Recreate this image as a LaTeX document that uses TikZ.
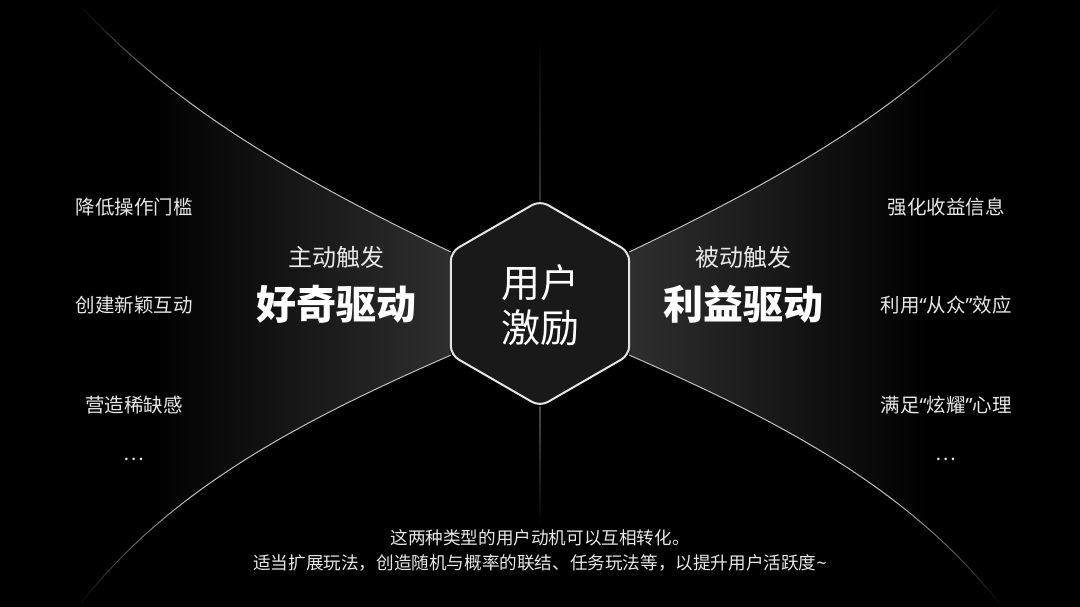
\documentclass[tikz,border=0pt]{standalone}
\usepackage{fontspec}
\setmainfont{Noto Sans CJK SC}
\newfontfamily\latinq{Noto Sans}
\usetikzlibrary{shapes.geometric,fadings}
\pgfdeclarehorizontalshading{shL}{100bp}{color(0bp)=(black); color(25bp)=(black); color(40bp)=(white); color(100bp)=(white)}
\pgfdeclarefading{fadeL}{\pgfuseshading{shL}}
\pgfdeclarehorizontalshading{shR}{100bp}{color(0bp)=(white); color(60bp)=(white); color(75bp)=(black); color(100bp)=(black)}
\pgfdeclarefading{fadeR}{\pgfuseshading{shR}}
\definecolor{hexfill}{HTML}{191919}
\definecolor{glow}{HTML}{303030}
\definecolor{curve}{HTML}{C0C0C0}
\definecolor{vline}{HTML}{4A4A4A}
\definecolor{txt}{HTML}{E8E8E8}
\tikzset{
  item/.style={text=txt, font=\fontsize{19.5}{22}\selectfont, anchor=center, inner sep=0pt},
  sub/.style={text=txt, font=\fontsize{24}{28}\selectfont, anchor=center, inner sep=0pt},
  big/.style={text=white, font=\fontsize{40}{46}\selectfont\bfseries, anchor=center, inner sep=0pt},
  foot/.style={text=txt, font=\fontsize{17.6}{25}\selectfont, align=center, anchor=center, inner sep=0pt},
  curveline/.style={draw=curve, line width=1pt},
}
\begin{document}
\begin{tikzpicture}[x=1pt,y=-1pt]
\useasboundingbox (0,0) rectangle (1080,607);
\fill[black] (0,0) rectangle (1080,607);
% hexagon node (defined first for anchors, drawn later on top)
\path node[regular polygon, regular polygon sides=6, shape border rotate=30,
  minimum size=206pt, inner sep=0pt] (hexg) at (540,303.5) {};
\coordinate (tl) at (80,5);
\coordinate (bl) at (78,607);
\coordinate (tr) at (1000,5);
\coordinate (br) at (1002,607);
\coordinate (vt) at (540,38);
\coordinate (vb) at (540,526);
% left glow
\begin{scope}
  \clip (tl) .. controls (173,107) and (300,180) .. (hexg.150) -- (hexg.210)
        .. controls (300,421) and (168,490) .. (bl) -- (0,607) -- (0,0) -- cycle;
  \shade[left color=black, right color=glow] (150,0) rectangle (460,607);
\end{scope}
% right glow
\begin{scope}
  \clip (tr) .. controls (907,107) and (780,180) .. (hexg.30) -- (hexg.330)
        .. controls (780,421) and (912,490) .. (br) -- (1080,607) -- (1080,0) -- cycle;
  \shade[left color=glow, right color=black] (620,0) rectangle (930,607);
\end{scope}
% curves
\draw[curveline, path fading=fadeL] (tl) .. controls (173,107) and (300,180) .. (hexg.150);
\draw[curveline, path fading=fadeL] (bl) .. controls (168,490) and (300,421) .. (hexg.210);
\draw[curveline, path fading=fadeR] (hexg.30) .. controls (780,180) and (907,107) .. (tr);
\draw[curveline, path fading=fadeR] (hexg.330) .. controls (780,421) and (912,490) .. (br);
% vertical lines
\shade[top color=black, bottom color=vline!70!black] ([xshift=-0.5pt]vt) rectangle ([xshift=0.5pt]hexg.90);
\shade[top color=vline, bottom color=black] ([xshift=-0.5pt]hexg.270) rectangle ([xshift=0.5pt]vb);
% hexagon
\node[regular polygon, regular polygon sides=6, shape border rotate=30,
  minimum size=206pt, inner sep=0pt, draw=white!90!black, line width=2pt,
  fill=hexfill, rounded corners=9pt] (hex) at (540,303.5) {};
\node[text=white, font=\fontsize{39}{45}\selectfont, align=center, inner sep=0pt] (hextxt) at (540,305) {用户\\激励};
% left texts
\node[item] (l1) at (134,207) {降低操作门槛};
\node[item] (l2) at (134,305) {创建新颖互动};
\node[item] (l3) at (134,405) {营造稀缺感};
\node[item] (l4) at (134,459) {…};
\node[sub] (lsub) at (336,257) {主动触发};
\node[big] (lbig) at (336,304) {好奇驱动};
% right texts
\node[item] (r1) at (946,207) {强化收益信息};
\node[item] (r2) at (946,305) {利用{\latinq “}从众{\latinq ”}效应};
\node[item] (r3) at (946,405) {满足{\latinq “}炫耀{\latinq ”}心理};
\node[item] (r4) at (946,459) {…};
\node[sub] (rsub) at (743,257) {被动触发};
\node[big] (rbig) at (743,304) {利益驱动};
% footer
\node[foot] (foot) at (540,550) {这两种类型的用户动机可以互相转化。\\适当扩展玩法，创造随机与概率的联结、任务玩法等，以提升用户活跃度{\latinq\string~}};
\end{tikzpicture}
\end{document}
